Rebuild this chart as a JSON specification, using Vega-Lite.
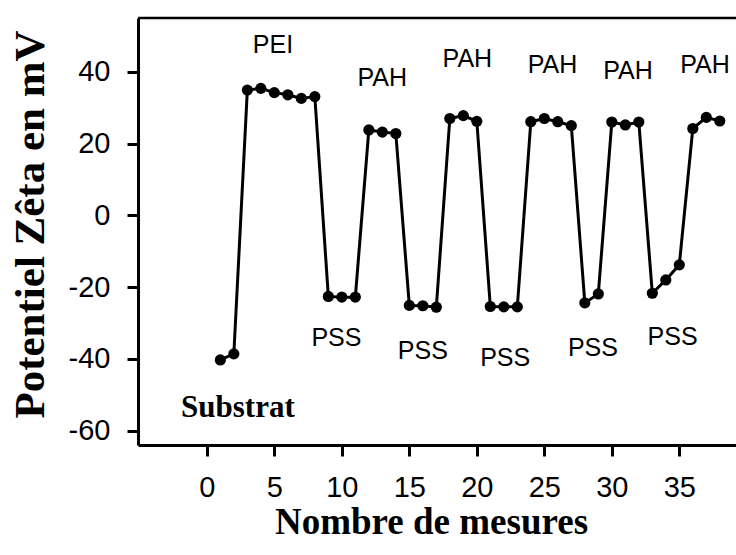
{
  "$schema": "https://vega.github.io/schema/vega-lite/v6.json",
  "width": 598,
  "height": 427,
  "autosize": {"type": "none"},
  "padding": {"left": 138, "top": 18, "right": 0, "bottom": 110},
  "background": "white",
  "config": {"view": {"stroke": null}},
  "datasets": {
    "mesures": [
      {"n": 1, "zeta": -40.3}, {"n": 2, "zeta": -38.6},
      {"n": 3, "zeta": 34.9}, {"n": 4, "zeta": 35.4}, {"n": 5, "zeta": 34.2},
      {"n": 6, "zeta": 33.6}, {"n": 7, "zeta": 32.6}, {"n": 8, "zeta": 33.1},
      {"n": 9, "zeta": -22.6}, {"n": 10, "zeta": -22.8}, {"n": 11, "zeta": -22.8},
      {"n": 12, "zeta": 23.8}, {"n": 13, "zeta": 23.2}, {"n": 14, "zeta": 22.8},
      {"n": 15, "zeta": -25.1}, {"n": 16, "zeta": -25.2}, {"n": 17, "zeta": -25.6},
      {"n": 18, "zeta": 27.0}, {"n": 19, "zeta": 27.8}, {"n": 20, "zeta": 26.2},
      {"n": 21, "zeta": -25.4}, {"n": 22, "zeta": -25.5}, {"n": 23, "zeta": -25.5},
      {"n": 24, "zeta": 26.1}, {"n": 25, "zeta": 27.0}, {"n": 26, "zeta": 26.1}, {"n": 27, "zeta": 25.0},
      {"n": 28, "zeta": -24.4}, {"n": 29, "zeta": -21.9},
      {"n": 30, "zeta": 26.0}, {"n": 31, "zeta": 25.2}, {"n": 32, "zeta": 26.0},
      {"n": 33, "zeta": -21.7}, {"n": 34, "zeta": -18.0}, {"n": 35, "zeta": -13.8},
      {"n": 36, "zeta": 24.2}, {"n": 37, "zeta": 27.3}, {"n": 38, "zeta": 26.3}
    ],
    "couches": [
      {"n": 4.9, "zeta": 47.5, "nom": "PEI"},
      {"n": 13.0, "zeta": 38.3, "nom": "PAH"},
      {"n": 19.3, "zeta": 43.6, "nom": "PAH"},
      {"n": 25.6, "zeta": 41.9, "nom": "PAH"},
      {"n": 31.2, "zeta": 40.2, "nom": "PAH"},
      {"n": 36.9, "zeta": 41.9, "nom": "PAH"},
      {"n": 9.6, "zeta": -34.1, "nom": "PSS"},
      {"n": 16.0, "zeta": -37.7, "nom": "PSS"},
      {"n": 22.1, "zeta": -39.7, "nom": "PSS"},
      {"n": 28.6, "zeta": -36.9, "nom": "PSS"},
      {"n": 34.5, "zeta": -33.8, "nom": "PSS"}
    ],
    "support": [
      {"n": 2.3, "zeta": -53.6, "nom": "Substrat"}
    ],
    "cadre": [
      {"n": -5.1, "n2": 39.2, "zeta": 55}
    ]
  },
  "encoding": {
    "x": {
      "field": "n", "type": "quantitative",
      "scale": {"domain": [-5.1, 39.2], "nice": false, "zero": false},
      "axis": {
        "values": [0, 5, 10, 15, 20, 25, 30, 35],
        "grid": false,
        "domainColor": "black", "domainWidth": 3,
        "tickColor": "black", "tickWidth": 3, "tickSize": 11,
        "labelFont": "Liberation Sans", "labelFontSize": 29, "labelColor": "black",
        "labelPadding": 17,
        "title": "Nombre de mesures",
        "titleFont": "Liberation Serif", "titleFontSize": 37, "titleFontWeight": "bold",
        "titleColor": "black",
        "titleX": 293, "titleY": 88, "titleBaseline": "alphabetic", "titleAlign": "center"
      }
    },
    "y": {
      "field": "zeta", "type": "quantitative",
      "scale": {"domain": [-64, 55], "nice": false, "zero": false},
      "axis": {
        "values": [-60, -40, -20, 0, 20, 40],
        "labelExpr": "datum.value < 0 ? '-' + abs(datum.value) : '' + datum.value",
        "grid": false,
        "domainColor": "black", "domainWidth": 3,
        "tickColor": "black", "tickWidth": 3, "tickSize": 11,
        "labelFont": "Liberation Sans", "labelFontSize": 29, "labelColor": "black",
        "labelPadding": 17,
        "title": "Potentiel Zêta en mV",
        "titleFont": "Liberation Serif", "titleFontSize": 43, "titleFontWeight": "bold",
        "titleColor": "black",
        "titleAngle": -90, "titleX": -95, "titleY": 206,
        "titleBaseline": "alphabetic", "titleAlign": "center"
      }
    }
  },
  "layer": [
    {
      "data": {"name": "mesures"},
      "mark": {
        "type": "line", "color": "black", "strokeWidth": 3,
        "point": {"filled": true, "color": "black", "size": 125, "opacity": 1}
      }
    },
    {
      "data": {"name": "couches"},
      "mark": {
        "type": "text", "font": "Liberation Sans", "fontSize": 25,
        "color": "black", "align": "center", "baseline": "middle"
      },
      "encoding": {"text": {"field": "nom"}}
    },
    {
      "data": {"name": "support"},
      "mark": {
        "type": "text", "font": "Liberation Serif", "fontSize": 31, "fontWeight": "bold",
        "color": "black", "align": "center", "baseline": "middle"
      },
      "encoding": {"text": {"field": "nom"}}
    },
    {
      "data": {"name": "cadre"},
      "mark": {"type": "rule", "color": "black", "strokeWidth": 2.5},
      "encoding": {"x2": {"field": "n2"}}
    }
  ]
}
